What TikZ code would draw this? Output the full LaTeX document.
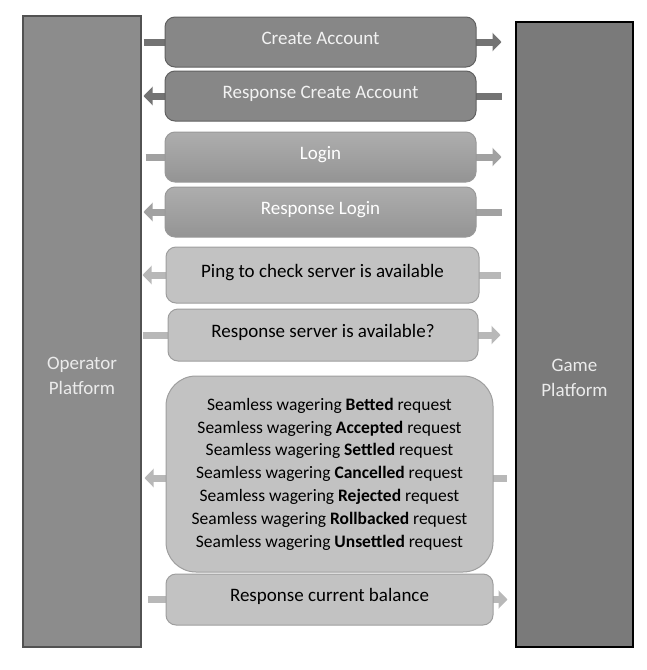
\documentclass[tikz,border=0pt]{standalone}
\usepackage{fontspec}
\setmainfont{Carlito}
\usetikzlibrary{arrows.meta,backgrounds}

\begin{document}
\begin{tikzpicture}[x=1pt,y=-1pt,
  platform/.style={rectangle,line width=2.5pt,minimum width=118pt,minimum height=631pt},
  bartext/.style={text=white!92!black,align=center,font=\fontsize{19}{25}\selectfont},
  msg/.style={rectangle,rounded corners=10pt,line width=1pt,minimum height=50pt,minimum width=311pt,
    font=\fontsize{19}{23}\selectfont,text height=13pt,text depth=9pt},
  msgdark/.style={msg,draw=black!62,fill=black!47,text=white!95!black},
  msglogin/.style={msg,draw=black!40,top color=black!32,bottom color=black!42,text=white},
  msglight/.style={msg,draw=black!38,fill=black!24,text=black},
  flow/.style={line width=7pt,draw=#1,-{Triangle[length=9pt,width=18pt]}}]
\useasboundingbox (0,0) rectangle (646,670);

% the two platforms
\node[platform,draw=black!68,fill=black!45] (op) at (82,331.5) {};
\node[platform,draw=black,fill=black!52,minimum width=117pt,minimum height=625pt] (gp) at (574.5,334.5) {};
\node[bartext] (optxt) at (82,375.5) {Operator\\Platform};
\node[bartext] (gptxt) at (574.5,377.5) {Game\\Platform};

% messages
\node[msgdark] (ca) at (320.5,42) {Create Account};
\node[msgdark] (rca) at (320.5,96) {Response Create Account};
\node[msglogin] (li) at (320.5,157) {Login};
\node[msglogin] (rli) at (320.5,212) {Response Login};
\node[msglight,minimum width=313pt,minimum height=56pt] (ping) at (322.5,275) {Ping to check server is available};
\node[msglight,minimum width=310pt,minimum height=52pt] (rsa) at (323,335) {Response server is available?};
\node[msglight,rounded corners=30pt,minimum width=327pt,minimum height=196pt,align=center,
  text height=,text depth=,font=\fontsize{17.5}{22.8}\selectfont] (sw) at (329.5,474) {%
  Seamless wagering \textbf{Betted} request\\
  Seamless wagering \textbf{Accepted} request\\
  Seamless wagering \textbf{Settled} request\\
  Seamless wagering \textbf{Cancelled} request\\
  Seamless wagering \textbf{Rejected} request\\
  Seamless wagering \textbf{Rollbacked} request\\
  Seamless wagering \textbf{Unsettled} request};
\node[msglight,minimum width=327pt,minimum height=51pt] (bal) at (329.5,599.5) {Response current balance};

\begin{scope}[on background layer]
\draw[flow=black!55] ([xshift=-21pt]ca.west) -- ([xshift=25pt]ca.east);
\draw[flow=black!55] ([xshift=25pt]rca.east) -- ([xshift=-21pt]rca.west);
\draw[flow=black!37] ([xshift=-19pt]li.west) -- ([xshift=25pt]li.east);
\draw[flow=black!37] ([xshift=25pt]rli.east) -- ([xshift=-21pt]rli.west);
\draw[flow=black!28] ([xshift=21pt]ping.east) -- ([xshift=-23pt]ping.west);
\draw[flow=black!28] ([xshift=-25pt]rsa.west) -- ([xshift=22pt]rsa.east);
\draw[flow=black!28] ([xshift=13pt,yshift=-4pt]sw.east) -- ([xshift=-21pt,yshift=-4pt]sw.west);
\draw[flow=black!28] ([xshift=-18pt]bal.west) -- ([xshift=14pt]bal.east);
\end{scope}
\end{tikzpicture}
\end{document}
